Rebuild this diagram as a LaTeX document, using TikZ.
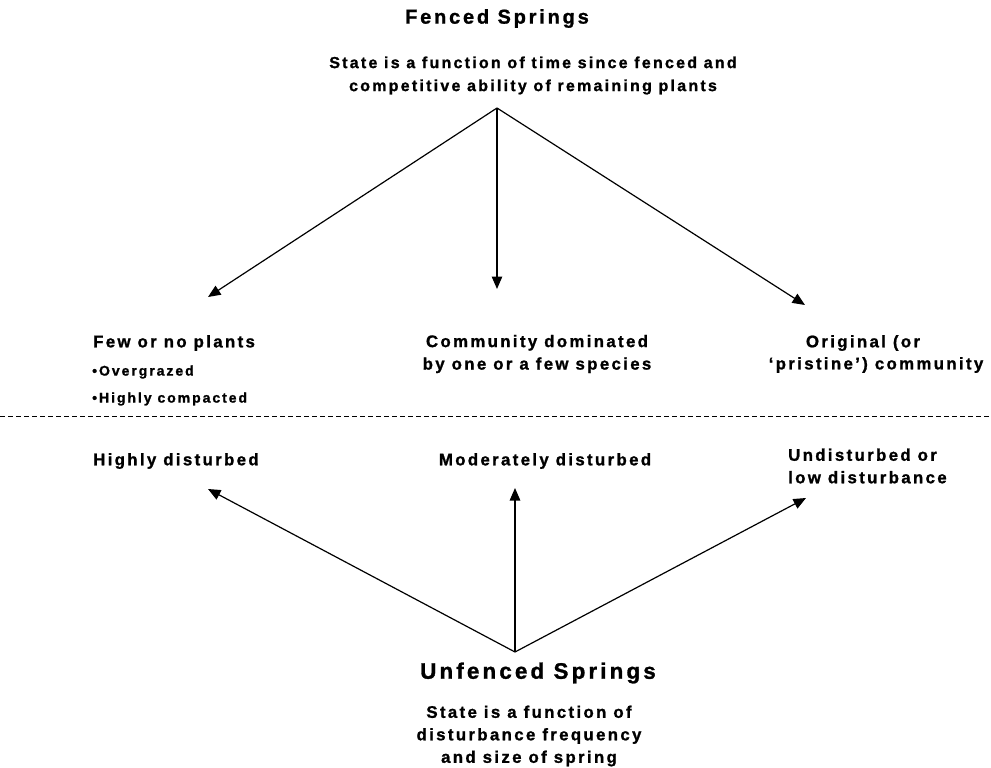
\documentclass[tikz,border=0pt]{standalone}
\usepackage{fontspec}
\setmainfont{Liberation Sans}[LetterSpace=14, BoldFeatures={FakeBold=1.2}]
\usetikzlibrary{arrows.meta}
\begin{document}
\begin{tikzpicture}[x=1pt,y=-1pt,
  lbl/.style={font=\bfseries\fontsize{16.8}{22.5}\selectfont, inner sep=0pt},
  desc/.style={font=\bfseries\fontsize{16}{23}\selectfont, inner sep=0pt},
  small/.style={font=\bfseries\fontsize{14}{18}\selectfont, inner sep=0pt},
  head/.style={font=\bfseries\fontsize{20}{24}\selectfont, inner sep=0pt},
  bighead/.style={font=\bfseries\fontsize{22.4}{26}\selectfont, inner sep=0pt},
  conn/.style={line width=1.2pt, -{Triangle[length=12.5pt,width=10.5pt]}},
  divider/.style={line width=0.7pt, dash pattern=on 5pt off 3pt}]
\useasboundingbox (0,0) rectangle (991,768);

% fenced springs: heading, description, branch point
\node[head] (ftitle) at (497,18.5) {Fenced Springs};
\node[desc, align=center] (fdesc) at (533,75.5) {State is a function of time since fenced and\\competitive ability of remaining plants};
\coordinate (ftop) at (497,108);
\coordinate (fleft) at (208,297);
\coordinate (fmid) at (497,289);
\coordinate (fright) at (805,305);
\draw[conn] (ftop) -- (fleft);
\draw[conn] (ftop) -- (fmid);
\draw[conn] (ftop) -- (fright);

% fenced states
\node[lbl, anchor=west] (few) at (93,343) {Few or no plants};
\node[small, anchor=west] (over) at (92,372) {\textbullet Overgrazed};
\node[small, anchor=west] (comp) at (92,399) {\textbullet Highly compacted};
\node[lbl, align=center] (dom) at (537,354) {Community dominated\\by one or a few species};
\node[lbl] (orig1) at (863,343) {Original (or};
\node[lbl] (orig2) at (876,365) {`pristine') community};

% divider between fenced and unfenced
\coordinate (dl) at (0,416);
\coordinate (dr) at (991,416);
\draw[divider] (dl) -- (dr);

% unfenced states
\node[lbl, anchor=west] (high) at (93,461) {Highly disturbed};
\node[lbl] (mod) at (545,461) {Moderately disturbed};
\node[lbl, anchor=west, align=left] (undist) at (788,466) {Undisturbed or\\low disturbance};

% unfenced springs: branch point, heading, description
\coordinate (utop) at (515,652);
\coordinate (uleft) at (208,489);
\coordinate (umid) at (515,488);
\coordinate (uright) at (806,498);
\draw[conn] (utop) -- (uleft);
\draw[conn] (utop) -- (umid);
\draw[conn] (utop) -- (uright);
\node[bighead] (utitle) at (538,673) {Unfenced Springs};
\node[lbl, align=center] (udesc) at (529,736) {State is a function of\\disturbance frequency\\and size of spring};
\end{tikzpicture}
\end{document}
